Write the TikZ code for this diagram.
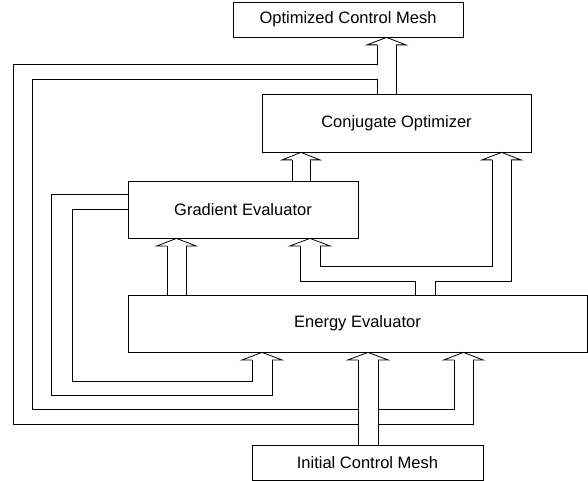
\documentclass[tikz,border=0pt]{standalone}
\usepackage{fontspec}
\setmainfont{Liberation Sans}
\usetikzlibrary{calc}

\tikzset{
  block/.style={draw,line width=0.8pt,inner sep=0pt,font=\fontsize{16.5}{19}\selectfont},
  pipe/.style={line width=0.8pt},
}

% hollow arrow head: left x, right x, tip anchor, name of the base points
\newcommand{\pipehead}[4]{%
  \draw[pipe] ($(#1,0 |- #3)+(0,7.5)$) coordinate (#4-l) -- ++(-10,0)
    -- ({(#1+#2)/2},0 |- #3) -- ($(#2,0 |- #3)+(10,7.5)$) -- ++(-10,0) coordinate (#4-r);}

\begin{document}
\begin{tikzpicture}[x=1pt,y=-1pt]

\useasboundingbox (0,0) rectangle (588,481);

\node[block,minimum width=230,minimum height=35] (optmesh) at (348,19.5) {Optimized Control Mesh};
\node[block,minimum width=269,minimum height=58] (conj) at (396.5,123) {Conjugate Optimizer};
\node[block,minimum width=230,minimum height=57] (grad) at (243,209.5) {Gradient Evaluator};
\node[block,minimum width=459,minimum height=57] (energy) at (357.5,323.5) {Energy Evaluator};
\node[block,minimum width=231,minimum height=35] (initmesh) at (367.5,462.5) {Initial Control Mesh};

\pipehead{377}{396}{optmesh.south}{om}
\pipehead{292}{310}{conj.south}{co1}
\pipehead{492}{511}{conj.south}{co2}
\pipehead{167}{186}{grad.south}{ge1}
\pipehead{300}{320}{grad.south}{ge2}
\pipehead{252}{272}{energy.south}{ee1}
\pipehead{358}{378}{energy.south}{ee2}
\pipehead{454}{473}{energy.south}{ee3}

% optimizer out and back
\draw[pipe] (om-r) -- (om-r |- conj.north);
\draw[pipe] (om-l) |- (13,64) -- (13,424) -| (ee3-r);
\draw[pipe] (om-l |- conj.north) |- (32,79) -- (32,409) -| (ee3-l);

% gradient to optimizer
\draw[pipe] (co1-l) -- (co1-l |- grad.north) (co1-r) -- (co1-r |- grad.north);

% energy to optimizer and gradient
\draw[pipe] (415,0 |- energy.north) -- (415,281) -| (ge2-l);
\draw[pipe] (435,0 |- energy.north) -- (435,281) -| (co2-r);
\draw[pipe] (ge2-r) -- (320,266) -| (co2-l);
\draw[pipe] (ge1-l) -- (ge1-l |- energy.north) (ge1-r) -- (ge1-r |- energy.north);

% gradient back to energy
\draw[pipe] (grad.west |- 0,194) -| (51,395) -| (ee1-r);
\draw[pipe] (grad.west |- 0,209) -| (72,381) -| (ee1-l);

% initial mesh
\fill[white] (ee2-l) rectangle (ee2-r |- initmesh.north);
\draw[pipe] (ee2-l) -- (ee2-l |- initmesh.north) (ee2-r) -- (ee2-r |- initmesh.north);

\end{tikzpicture}
\end{document}
